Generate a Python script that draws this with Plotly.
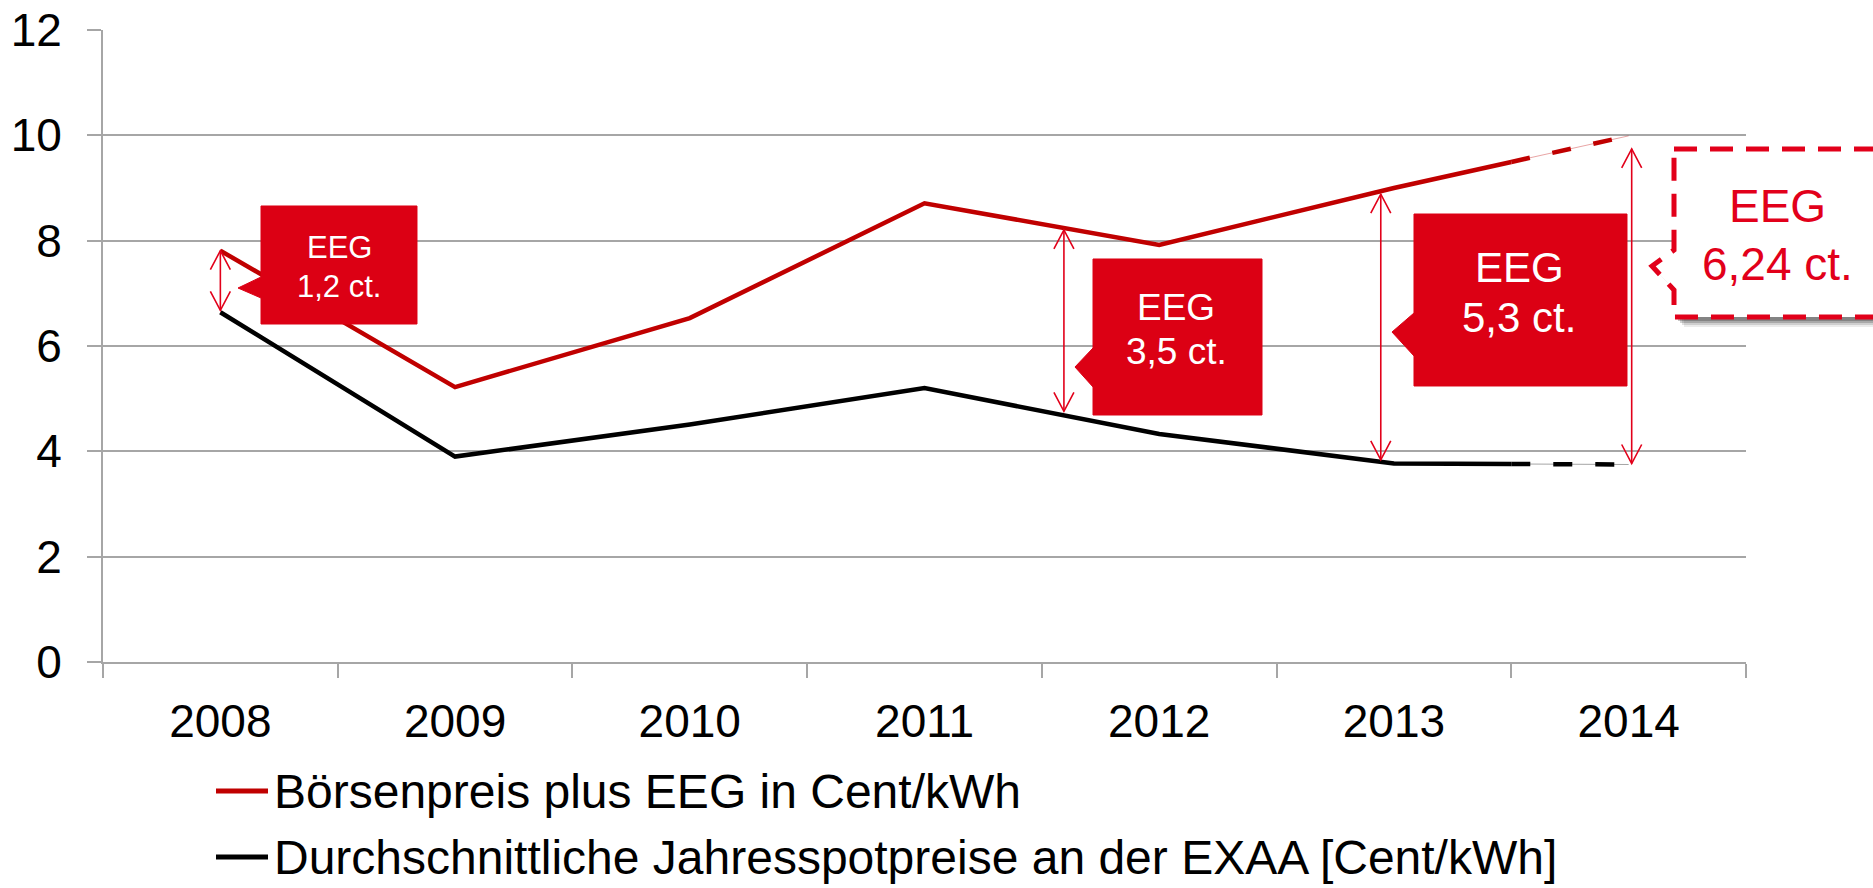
import numpy as np
import plotly.graph_objects as go

# ---------------- data ----------------
years = ["2008", "2009", "2010", "2011", "2012", "2013", "2014"]
boersenpreis_plus_eeg = [7.81, 5.22, 6.53, 8.71, 7.92, 9.00, 9.99]
exaa_spotpreis = [6.64, 3.90, 4.51, 5.20, 4.33, 3.77, 3.75]
series_names = ["Börsenpreis plus EEG in Cent/kWh",
                "Durchschnittliche Jahresspotpreise an der EXAA [Cent/kWh]"]
eeg_labels = ["EEG<br>1,2 ct.", "EEG<br>3,5 ct.", "EEG<br>5,3 ct.", "EEG<br>6,24 ct."]
y_ticks = [0, 2, 4, 6, 8, 10, 12]

# ---------------- styling / layout geometry ----------------
W, H = 1873, 888
PL, PR, PT, PB = 103, 1746, 30, 662          # plot area in px
ML, MT = PL, PT
MR, MB = W - PR, H - PB
PW, PH = PR - PL, PB - PT
FONT = "Arial, Liberation Sans, sans-serif"
RED_LINE = "#C00000"
RED_BOX = "#DC0014"
GRID = "#A6A6A6"

def px(x):
    return (x - PL) / PW

def py(y):
    return (PB - y) / PH

pos = np.arange(len(years), dtype=float)
split = pos[-2] + 0.5  # forecast part starts at category boundary

def split_series(vals):
    v = np.asarray(vals, dtype=float)
    mid = np.interp(split, pos, v)
    solid_x = list(pos[:-1]) + [split]
    solid_y = list(v[:-1]) + [mid]
    dash_x = [split, pos[-1]]
    dash_y = [mid, v[-1]]
    return solid_x, solid_y, dash_x, dash_y

fig = go.Figure()
shapes = []
annotations = []

legend_rows = [791, 857]
for i, (vals, color, name) in enumerate([(boersenpreis_plus_eeg, RED_LINE, series_names[0]),
                                         (exaa_spotpreis, "#000000", series_names[1])]):
    sx, sy, dx, dy = split_series(vals)
    fig.add_trace(go.Scatter(x=sx, y=sy, mode="lines", name=name, showlegend=False,
                             line=dict(color=color, width=4.5), hoverinfo="skip"))
    fig.add_trace(go.Scatter(x=dx, y=dy, mode="lines", showlegend=False,
                             line=dict(color=color, width=1), opacity=0.35, hoverinfo="skip"))
    fig.add_trace(go.Scatter(x=dx, y=dy, mode="lines", showlegend=False,
                             line=dict(color=color, width=4.5, dash="19px,23px"), hoverinfo="skip"))
    # manual legend entry
    shapes.append(dict(type="line", xref="paper", yref="paper", x0=px(216), x1=px(268),
                       y0=py(legend_rows[i]), y1=py(legend_rows[i]),
                       line=dict(color=color, width=5)))
    annotations.append(dict(xref="paper", yref="paper", x=px(272), y=py(legend_rows[i]),
                            xanchor="left", yanchor="middle", showarrow=False, text=name,
                            font=dict(family=FONT, size=48, color="#000000")))

# ---- double-headed EEG arrows (positions in category index units) ----
ARROW = "#E2001A"
arrow_specs = [  # (x index, top inset px, bottom inset px)
    (0.0, 0, 2),
    (3.594, 2, 4),
    (4.944, 3, 2),
    (6.013, 13, 1),
]
for ax, tin, bin_ in arrow_specs:
    top = np.interp(ax, pos, boersenpreis_plus_eeg) - tin / (PH / 12)
    bot = np.interp(ax, pos, exaa_spotpreis) + bin_ / (PH / 12)
    shapes.append(dict(type="line", xref="x", yref="y", x0=ax, x1=ax, y0=bot, y1=top,
                       line=dict(color=ARROW, width=1.6)))
    shapes.append(dict(type="path", xref="x", yref="y", xsizemode="pixel", ysizemode="pixel",
                       xanchor=ax, yanchor=top, path="M-10,-19L0,0L10,-19",
                       line=dict(color=ARROW, width=1.6)))
    shapes.append(dict(type="path", xref="x", yref="y", xsizemode="pixel", ysizemode="pixel",
                       xanchor=ax, yanchor=bot, path="M-10,19L0,0L10,19",
                       line=dict(color=ARROW, width=1.6)))

# ---- callout boxes (pixel geometry -> paper) ----
def callout_path(x0, x1, y0, y1, tipx, tipy, b0, b1):
    pts = [(x0, y0), (x1, y0), (x1, y1), (x0, y1), (x0, b1), (tipx, tipy), (x0, b0)]
    return "M" + "L".join(f"{px(a):.5f},{py(b):.5f}" for a, b in pts) + "Z"

boxes = [  # x0, x1, y0, y1, tipx, tipy, base0, base1, font, text idx, line1 y, line2 y, cx
    (261, 417, 206, 324, 238, 288, 277, 298, 31, 0, 248, 286, 339),
    (1093, 1262, 259, 415, 1075, 367, 348, 387, 37, 1, 307, 351, 1176),
    (1414, 1627, 214, 386, 1392, 332, 313, 356, 42, 2, 267, 317, 1519),
]
for (x0, x1, y0, y1, tx, ty, b0, b1, fs, ti, l1, l2, cx) in boxes:
    shapes.append(dict(type="path", xref="paper", yref="paper",
                       path=callout_path(x0, x1, y0, y1, tx, ty, b0, b1),
                       fillcolor=RED_BOX, line=dict(color=RED_BOX, width=1)))
    t1, t2 = eeg_labels[ti].split("<br>")
    for t, yy in [(t1, l1), (t2, l2)]:
        annotations.append(dict(xref="paper", yref="paper", x=px(cx), y=py(yy),
                                xanchor="center", yanchor="middle", showarrow=False, text=t,
                                font=dict(family=FONT, size=fs, color="white")))

# dashed forecast callout with shadow
bx = (1674, 1890, 149, 317, 1652, 266, 250, 290)
for off, alpha in [(10, 0.08), (8, 0.12), (6, 0.18), (4, 0.22)]:
    x0, x1, y0, y1, tx, ty, b0, b1 = bx
    shapes.append(dict(type="path", xref="paper", yref="paper",
                       path=callout_path(x0 + off, x1 + off, y0 + off, y1 + off, tx + off, ty + off, b0 + off, b1 + off),
                       fillcolor=f"rgba(0,0,0,{alpha})", line=dict(width=0)))
shapes.append(dict(type="path", xref="paper", yref="paper", path=callout_path(*bx),
                   fillcolor="white", line=dict(color=ARROW, width=5, dash="23px,13px")))
t1, t2 = eeg_labels[3].split("<br>")
for t, yy in [(t1, 206), (t2, 264)]:
    annotations.append(dict(xref="paper", yref="paper", x=px(1778), y=py(yy),
                            xanchor="center", yanchor="middle", showarrow=False, text=t,
                            font=dict(family=FONT, size=46, color=ARROW)))

fig.update_layout(
    width=W, height=H,
    margin=dict(l=ML, r=MR, t=MT, b=MB, autoexpand=False),
    paper_bgcolor="white", plot_bgcolor="white",
    font=dict(family=FONT, color="#000000"),
    showlegend=False,
    xaxis=dict(range=[-0.5, len(years) - 0.5], tickmode="array", tickvals=pos, ticktext=years,
               ticks="", showgrid=False, zeroline=False, showline=True, linecolor=GRID, linewidth=2,
               automargin=False, ticklabeloverflow="allow",
               tickfont=dict(family=FONT, size=46, color="#000000"), ticklabelstandoff=18,
               minor=dict(tickmode="array", tickvals=list(pos - 0.5) + [pos[-1] + 0.5],
                          ticks="outside", ticklen=14, tickcolor=GRID, tickwidth=2, showgrid=False)),
    yaxis=dict(range=[0, 12], tickmode="array", tickvals=y_ticks, showgrid=True, gridcolor=GRID,
               gridwidth=2, zeroline=False, showline=True, linecolor=GRID, linewidth=2,
               automargin=False, ticklabeloverflow="allow",
               ticks="outside", ticklen=14, tickcolor=GRID, tickwidth=2,
               tickfont=dict(family=FONT, size=46, color="#000000"), ticklabelstandoff=16),
    shapes=shapes,
    annotations=annotations,
)

fig.write_html("out.html", config={"displayModeBar": False},
               post_script="document.body.style.margin='0';document.body.style.overflow='hidden';")
